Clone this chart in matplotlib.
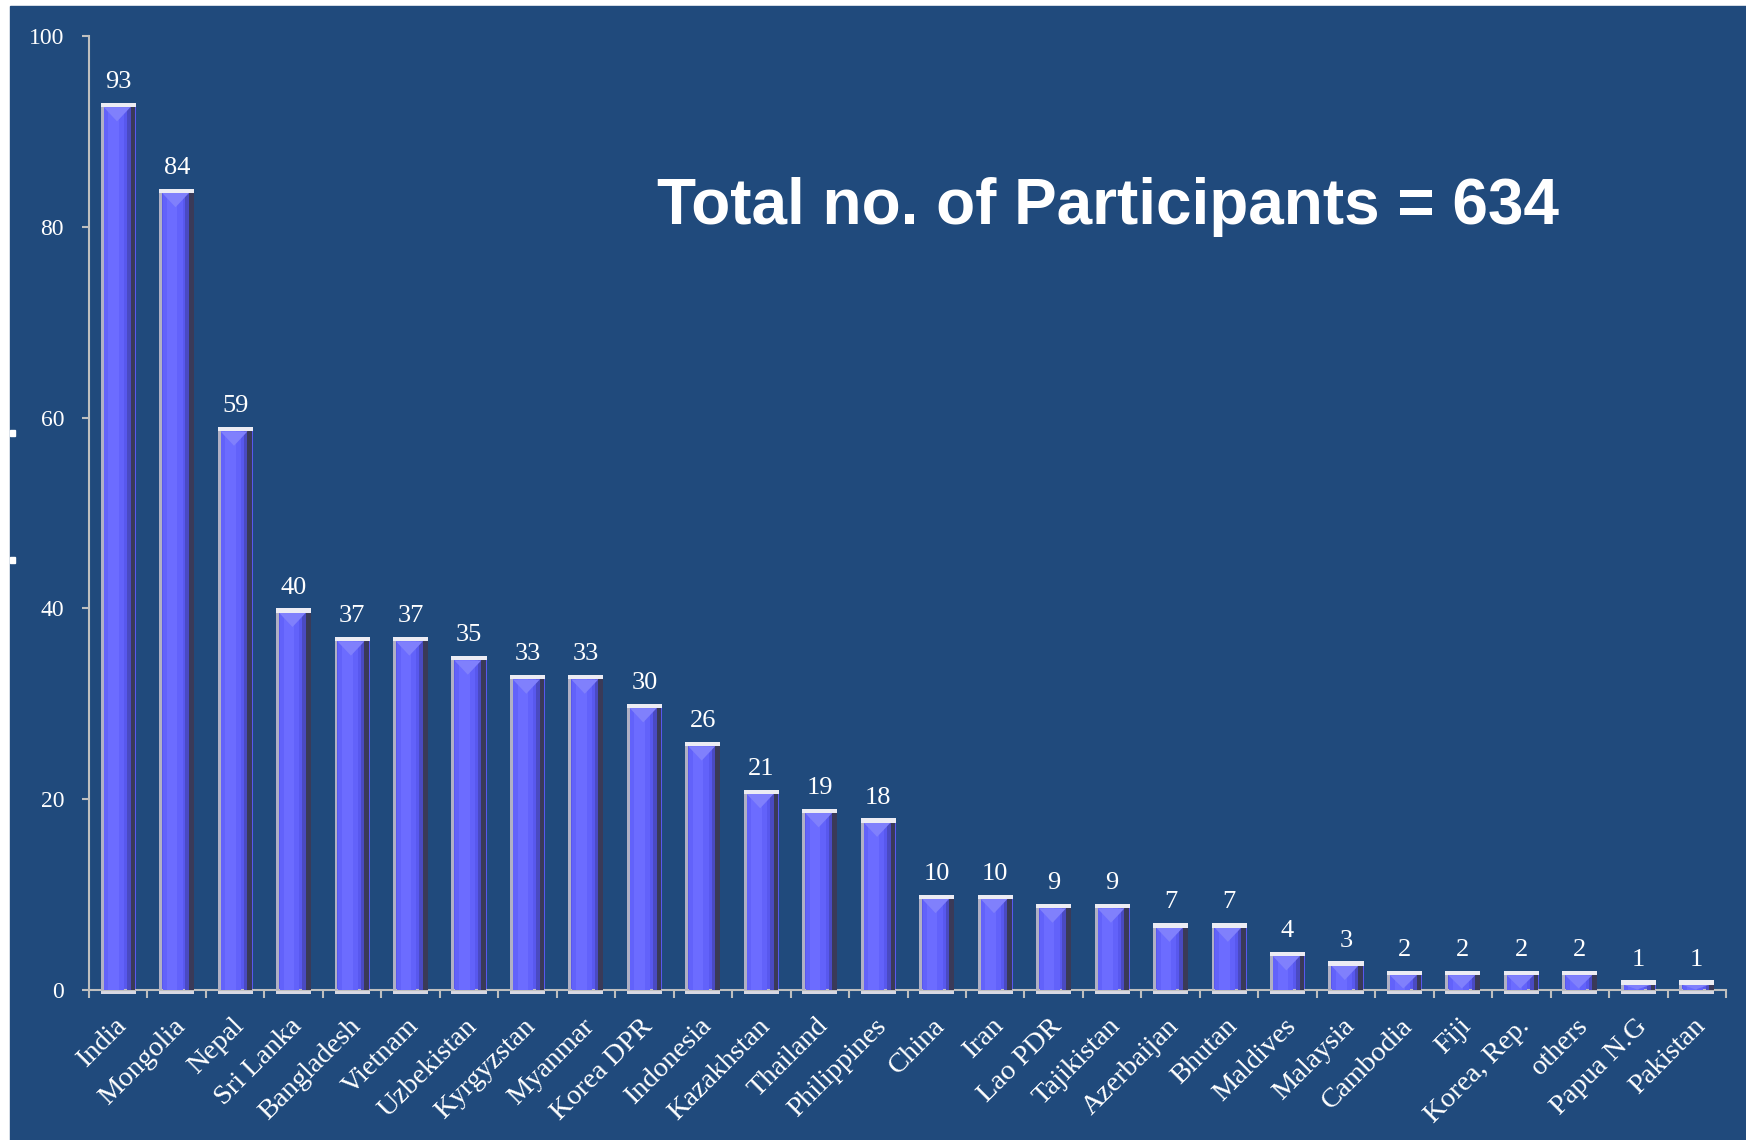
import matplotlib
matplotlib.use('Agg')
import matplotlib.pyplot as plt
from matplotlib.patches import Rectangle, Polygon
import matplotlib.transforms as mtransforms
import numpy as np

countries = ["India", "Mongolia", "Nepal", "Sri Lanka", "Bangladesh", "Vietnam",
             "Uzbekistan", "Kyrgyzstan", "Myanmar", "Korea DPR", "Indonesia",
             "Kazakhstan", "Thailand", "Philippines", "China", "Iran", "Lao PDR",
             "Tajikistan", "Azerbaijan", "Bhutan", "Maldives", "Malaysia",
             "Cambodia", "Fiji", "Korea, Rep.", "others", "Papua N.G", "Pakistan"]
participants = [93, 84, 59, 40, 37, 37, 35, 33, 33, 30, 26, 21, 19, 18, 10, 10,
                9, 9, 7, 7, 4, 3, 2, 2, 2, 2, 1, 1]
yticks = [0, 20, 40, 60, 80, 100]
title_text = "Total no. of Participants = 634"

BG = '#204a7c'
W, H = 1746, 1140
fig = plt.figure(figsize=(W / 100, H / 100), dpi=100, facecolor='white')
fig.patches.append(Rectangle((10 / W, 0), 1, 1 - 6 / H, transform=fig.transFigure,
                             color=BG, zorder=-10))
for yy in [433, 560]:
    fig.patches.append(Rectangle((10 / W, 1 - (yy + 3) / H), 5 / W, 6 / H,
                                 transform=fig.transFigure, color='white', zorder=-5))

ax = fig.add_axes([89 / W, 1 - 990 / H, (1726 - 89) / W, (990 - 36) / H])
ax.set_facecolor('none')

n = len(countries)
x = np.arange(n)
vals = np.array(participants, dtype=float)
w = 0.6

# bar body and shading layers
ax.bar(x, vals, w, color='#5858ee', linewidth=0, zorder=2)
ax.bar(x - 0.07, vals, 0.34, color='#6262fa', linewidth=0, zorder=3)
ax.bar(x - 0.08, vals, 0.18, color='#6c6cff', linewidth=0, zorder=3)
ax.bar(x + w / 2 - 0.12, vals, 0.06, color='#4a4ac2', linewidth=0, zorder=3)
ax.bar(x + w / 2 - 0.05, vals, 0.08, color='#3a3a58', linewidth=0, zorder=3)
ax.bar(x - w / 2 + 0.025, vals, 0.05, color='#b0b0c4', linewidth=0, zorder=3)
# chevrons at top
for xi, v in zip(x, vals):
    top = v - 0.45
    h = min(1.5, top * 0.9)
    ax.add_patch(Polygon([(xi - w / 2 + 0.05, top), (xi + w / 2 - 0.09, top),
                          (xi - 0.02, top - h)], closed=True, color='#8080fc',
                         linewidth=0, zorder=4))
# top cap
ax.bar(x, np.full(n, 0.45), w, bottom=vals - 0.45, color='#ececf4',
       linewidth=0, zorder=5)
# base highlight below axis
ax.bar(x, np.full(n, 0.4), w, bottom=-0.4, color='#d8d8e2', linewidth=0,
       zorder=1, clip_on=False)

for xi, v in zip(x, participants):
    ax.annotate(str(v), (xi, v), xytext=(0, 7), textcoords='offset points',
                ha='center', va='bottom', color='white', fontsize=19,
                family='Liberation Serif', zorder=6)

axis_col = '#bfbfbf'
for s in ['top', 'right']:
    ax.spines[s].set_visible(False)
for s in ['left', 'bottom']:
    ax.spines[s].set_color(axis_col)
    ax.spines[s].set_linewidth(1.5)

ax.set_xlim(-0.5, n - 0.5)
ax.set_ylim(0, 100)
ax.set_yticks(yticks)
ax.set_yticklabels([str(t) for t in yticks], family='Liberation Serif')
ax.tick_params(axis='y', direction='out', length=5, width=1.5, color=axis_col,
               labelcolor='white', labelsize=17, pad=13)

ax.set_xticks(np.arange(n + 1) - 0.5)
ax.set_xticklabels([])
ax.tick_params(axis='x', which='major', direction='out', length=6, width=1.5,
               color=axis_col)
ax.set_xticks(x, minor=True)
ax.set_xticklabels(countries, minor=True, rotation=45, ha='right', va='top',
                   rotation_mode='anchor', fontsize=20.5, color='white',
                   family='Liberation Serif')
ax.tick_params(axis='x', which='minor', length=0, pad=17)
offset = mtransforms.ScaledTranslation(-3 / 72, 0, fig.dpi_scale_trans)
for lab in ax.get_xticklabels(minor=True):
    lab.set_transform(lab.get_transform() + offset)

fig.text(0.6346, 1 - 224 / H, title_text, ha='center', va='baseline',
         fontsize=46, fontweight='bold', family='Liberation Sans', color='white')

fig.savefig('out.png', dpi=100, facecolor='white')
